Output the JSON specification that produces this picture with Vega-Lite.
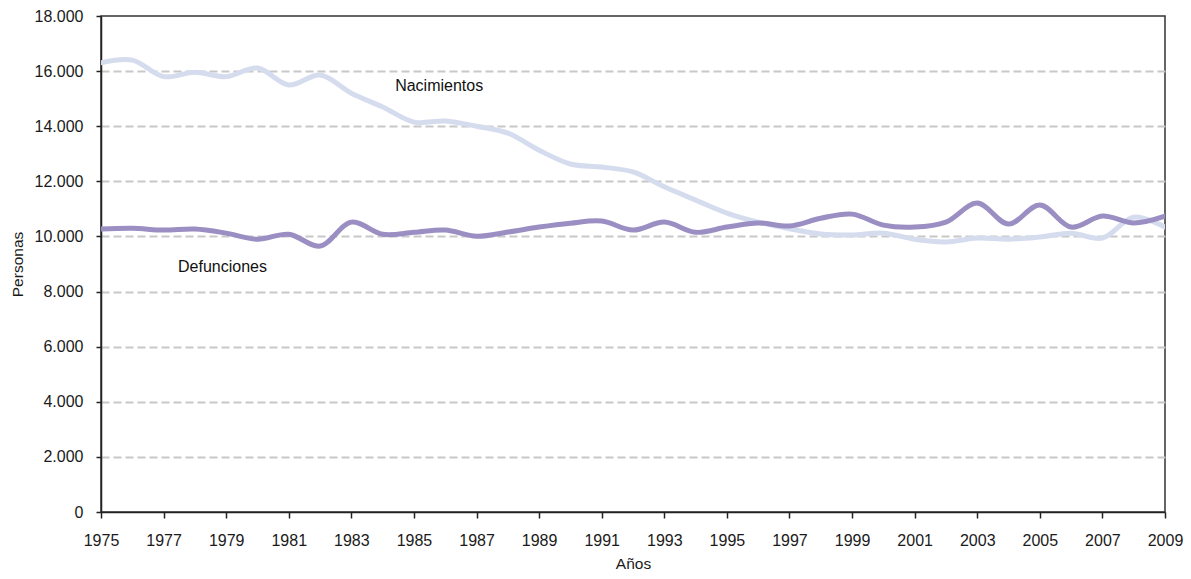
{
  "$schema": "https://vega.github.io/schema/vega-lite/v6.json",
  "width": 1064,
  "height": 496,
  "autosize": "none",
  "padding": {"left": 101, "top": 16, "right": 26, "bottom": 67},
  "background": "white",
  "config": {
    "view": {"stroke": "#333333", "strokeWidth": 1.5},
    "font": "Liberation Sans",
    "axis": {"labelFont": "Liberation Sans", "titleFont": "Liberation Sans", "labelColor": "#1a1a1a", "titleColor": "#1a1a1a", "labelFontSize": 16, "titleFontSize": 15.5, "titleFontWeight": "normal", "domainColor": "#222", "tickColor": "#222", "domainWidth": 1.5, "tickWidth": 1.5}
  },
  "datasets": {
    "series": [
      {"year": 1975, "serie": "Nacimientos", "valor": 16300},
      {"year": 1976, "serie": "Nacimientos", "valor": 16400},
      {"year": 1977, "serie": "Nacimientos", "valor": 15800},
      {"year": 1978, "serie": "Nacimientos", "valor": 15960},
      {"year": 1979, "serie": "Nacimientos", "valor": 15800},
      {"year": 1980, "serie": "Nacimientos", "valor": 16110},
      {"year": 1981, "serie": "Nacimientos", "valor": 15500},
      {"year": 1982, "serie": "Nacimientos", "valor": 15860},
      {"year": 1983, "serie": "Nacimientos", "valor": 15200},
      {"year": 1984, "serie": "Nacimientos", "valor": 14700},
      {"year": 1985, "serie": "Nacimientos", "valor": 14150},
      {"year": 1986, "serie": "Nacimientos", "valor": 14190},
      {"year": 1987, "serie": "Nacimientos", "valor": 14000},
      {"year": 1988, "serie": "Nacimientos", "valor": 13750},
      {"year": 1989, "serie": "Nacimientos", "valor": 13130},
      {"year": 1990, "serie": "Nacimientos", "valor": 12630},
      {"year": 1991, "serie": "Nacimientos", "valor": 12520},
      {"year": 1992, "serie": "Nacimientos", "valor": 12340},
      {"year": 1993, "serie": "Nacimientos", "valor": 11800},
      {"year": 1994, "serie": "Nacimientos", "valor": 11320},
      {"year": 1995, "serie": "Nacimientos", "valor": 10850},
      {"year": 1996, "serie": "Nacimientos", "valor": 10520},
      {"year": 1997, "serie": "Nacimientos", "valor": 10280},
      {"year": 1998, "serie": "Nacimientos", "valor": 10090},
      {"year": 1999, "serie": "Nacimientos", "valor": 10050},
      {"year": 2000, "serie": "Nacimientos", "valor": 10120},
      {"year": 2001, "serie": "Nacimientos", "valor": 9900},
      {"year": 2002, "serie": "Nacimientos", "valor": 9800},
      {"year": 2003, "serie": "Nacimientos", "valor": 9940},
      {"year": 2004, "serie": "Nacimientos", "valor": 9900},
      {"year": 2005, "serie": "Nacimientos", "valor": 9980},
      {"year": 2006, "serie": "Nacimientos", "valor": 10120},
      {"year": 2007, "serie": "Nacimientos", "valor": 9940},
      {"year": 2008, "serie": "Nacimientos", "valor": 10700},
      {"year": 2009, "serie": "Nacimientos", "valor": 10340},
      {"year": 1975, "serie": "Defunciones", "valor": 10270},
      {"year": 1976, "serie": "Defunciones", "valor": 10300},
      {"year": 1977, "serie": "Defunciones", "valor": 10230},
      {"year": 1978, "serie": "Defunciones", "valor": 10270},
      {"year": 1979, "serie": "Defunciones", "valor": 10120},
      {"year": 1980, "serie": "Defunciones", "valor": 9900},
      {"year": 1981, "serie": "Defunciones", "valor": 10080},
      {"year": 1982, "serie": "Defunciones", "valor": 9650},
      {"year": 1983, "serie": "Defunciones", "valor": 10520},
      {"year": 1984, "serie": "Defunciones", "valor": 10080},
      {"year": 1985, "serie": "Defunciones", "valor": 10150},
      {"year": 1986, "serie": "Defunciones", "valor": 10230},
      {"year": 1987, "serie": "Defunciones", "valor": 10010},
      {"year": 1988, "serie": "Defunciones", "valor": 10160},
      {"year": 1989, "serie": "Defunciones", "valor": 10340},
      {"year": 1990, "serie": "Defunciones", "valor": 10480},
      {"year": 1991, "serie": "Defunciones", "valor": 10560},
      {"year": 1992, "serie": "Defunciones", "valor": 10230},
      {"year": 1993, "serie": "Defunciones", "valor": 10520},
      {"year": 1994, "serie": "Defunciones", "valor": 10150},
      {"year": 1995, "serie": "Defunciones", "valor": 10340},
      {"year": 1996, "serie": "Defunciones", "valor": 10490},
      {"year": 1997, "serie": "Defunciones", "valor": 10380},
      {"year": 1998, "serie": "Defunciones", "valor": 10660},
      {"year": 1999, "serie": "Defunciones", "valor": 10810},
      {"year": 2000, "serie": "Defunciones", "valor": 10410},
      {"year": 2001, "serie": "Defunciones", "valor": 10340},
      {"year": 2002, "serie": "Defunciones", "valor": 10520},
      {"year": 2003, "serie": "Defunciones", "valor": 11210},
      {"year": 2004, "serie": "Defunciones", "valor": 10450},
      {"year": 2005, "serie": "Defunciones", "valor": 11140},
      {"year": 2006, "serie": "Defunciones", "valor": 10340},
      {"year": 2007, "serie": "Defunciones", "valor": 10740},
      {"year": 2008, "serie": "Defunciones", "valor": 10490},
      {"year": 2009, "serie": "Defunciones", "valor": 10740}
    ],
    "labels": [
      {"year": 1984.4, "valor": 15460, "texto": "Nacimientos"},
      {"year": 1977.46, "valor": 8890, "texto": "Defunciones"}
    ]
  },
  "layer": [
    {
      "data": {"name": "series"},
      "mark": {"type": "line", "interpolate": "catmull-rom", "strokeWidth": 5, "strokeCap": "round", "clip": true},
      "encoding": {
        "x": {
          "field": "year", "type": "quantitative",
          "scale": {"domain": [1975, 2009], "nice": false, "zero": false},
          "axis": {
            "title": "Años", "titlePadding": 8,
            "values": [1975,1976,1977,1978,1979,1980,1981,1982,1983,1984,1985,1986,1987,1988,1989,1990,1991,1992,1993,1994,1995,1996,1997,1998,1999,2000,2001,2002,2003,2004,2005,2006,2007,2008,2009],
            "labelExpr": "datum.value % 2 == 1 ? format(datum.value, 'd') : ''",
            "grid": false, "tickSize": 6, "labelPadding": 14, "labelFlush": false, "labelOverlap": false
          }
        },
        "y": {
          "field": "valor", "type": "quantitative",
          "scale": {"domain": [0, 18000], "nice": false},
          "axis": {
            "title": "Personas", "titlePadding": 9,
            "values": [0,2000,4000,6000,8000,10000,12000,14000,16000,18000],
            "labelExpr": "replace(format(datum.value, ','), ',', '.')",
            "grid": true, "gridColor": "#c8c8c8", "gridWidth": 2, "gridDash": [8, 4],
            "gridOpacity": {"condition": {"test": "datum.value == 0 || datum.value == 18000", "value": 0}, "value": 1},
            "tickSize": 5, "labelPadding": 13
          }
        },
        "color": {
          "field": "serie", "type": "nominal",
          "scale": {"domain": ["Nacimientos", "Defunciones"], "range": ["#d5dcee", "#9a8ec3"]},
          "legend": null
        },
        "order": {"field": "serie", "sort": "descending"}
      }
    },
    {
      "data": {"name": "labels"},
      "mark": {"type": "text", "align": "left", "baseline": "middle", "fontSize": 16, "font": "Liberation Sans", "color": "#111"},
      "encoding": {
        "x": {"field": "year", "type": "quantitative"},
        "y": {"field": "valor", "type": "quantitative"},
        "text": {"field": "texto"}
      }
    }
  ]
}
